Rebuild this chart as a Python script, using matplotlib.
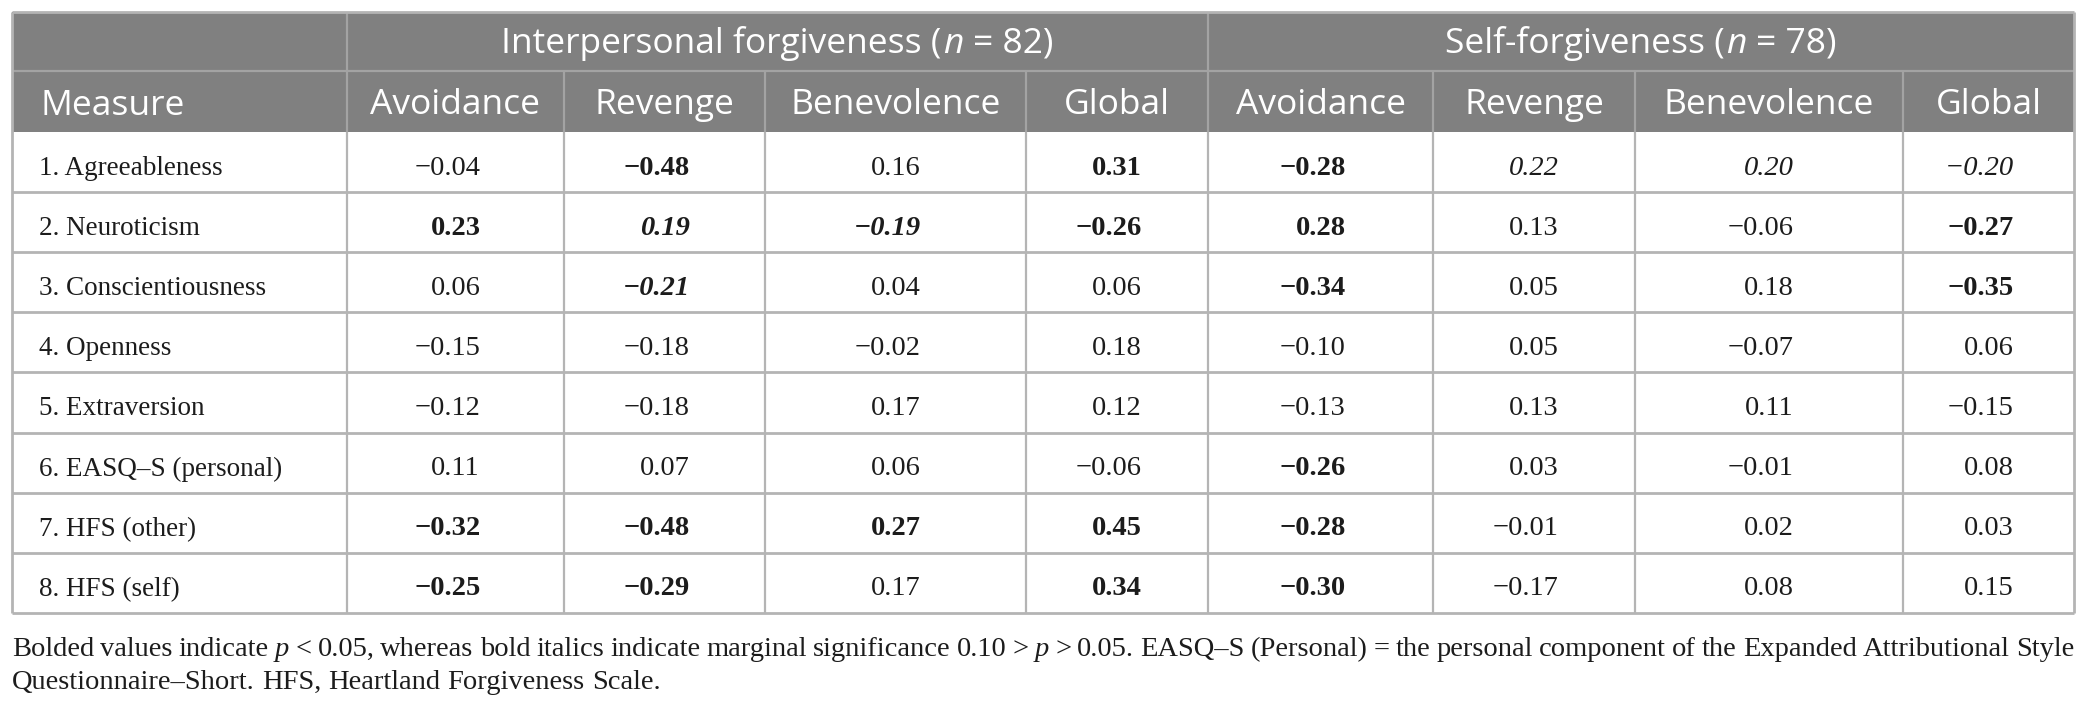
import matplotlib
matplotlib.use('Agg')
import matplotlib.pyplot as plt
from matplotlib.patches import Rectangle

# ---- table content ----
groups = ['Interpersonal forgiveness', 'Self-forgiveness']
group_n = [82, 78]
sub_cols = ['Avoidance', 'Revenge', 'Benevolence', 'Global']
measures = ['1. Agreeableness', '2. Neuroticism', '3. Conscientiousness', '4. Openness',
            '5. Extraversion', '6. EASQ\u2013S (personal)', '7. HFS (other)', '8. HFS (self)']

inter_vals = [
    [-0.04, -0.48, 0.16, 0.31],
    [0.23, 0.19, -0.19, -0.26],
    [0.06, -0.21, 0.04, 0.06],
    [-0.15, -0.18, -0.02, 0.18],
    [-0.12, -0.18, 0.17, 0.12],
    [0.11, 0.07, 0.06, -0.06],
    [-0.32, -0.48, 0.27, 0.45],
    [-0.25, -0.29, 0.17, 0.34],
]
inter_style = [
    ['', 'b', '', 'b'],
    ['b', 'bi', 'bi', 'b'],
    ['', 'bi', '', ''],
    ['', '', '', ''],
    ['', '', '', ''],
    ['', '', '', ''],
    ['b', 'b', 'b', 'b'],
    ['b', 'b', '', 'b'],
]
self_vals = [
    [-0.28, 0.22, 0.20, -0.20],
    [0.28, 0.13, -0.06, -0.27],
    [-0.34, 0.05, 0.18, -0.35],
    [-0.10, 0.05, -0.07, 0.06],
    [-0.13, 0.13, 0.11, -0.15],
    [-0.26, 0.03, -0.01, 0.08],
    [-0.28, -0.01, 0.02, 0.03],
    [-0.30, -0.17, 0.08, 0.15],
]
self_style = [
    ['b', 'i', 'i', 'i'],
    ['b', '', '', 'b'],
    ['b', '', '', 'b'],
    ['', '', '', ''],
    ['', '', '', ''],
    ['b', '', '', ''],
    ['b', '', '', ''],
    ['b', '', '', ''],
]

note_line1 = [('Bolded values indicate', ''), ('p', 'i'),
              ('< 0.05, whereas bold italics indicate marginal significance 0.10 >', ''), ('p', 'i'),
              ('> 0.05. EASQ\u2013S (Personal) = the personal component of the Expanded Attributional Style', '')]
note_line2 = 'Questionnaire\u2013Short. HFS, Heartland Forgiveness Scale.'

# ---- layout (pixels) ----
W, H = 2086, 710
col_edges = [12, 347, 564, 765, 1026, 1208, 1433, 1635, 1903, 2074]
top, hdr_mid, hdr_bot = 12, 71, 132
row_h = 60.1
bottom = hdr_bot + row_h * len(measures)

hdr_bg = '#808080'
hdr_line = '#a3a3a3'
grid = '#b4b4b4'
sans = 'Open Sans'
serif = 'Liberation Serif'
hdr_size = 25.5
label_size = 19.5
num_size = 20.5
note_size = 20.5
ink = '#1c1c1c'

fig = plt.figure(figsize=(W / 100, H / 100), dpi=100)
ax = fig.add_axes([0, 0, 1, 1])
ax.set_xlim(0, W)
ax.set_ylim(H, 0)
ax.axis('off')
renderer = fig.canvas.get_renderer()


def font_kw(st):
    return dict(fontweight='bold' if 'b' in st else 'normal',
                fontstyle='italic' if 'i' in st else 'normal')


def text_width(s, **kw):
    t = ax.text(0, 0, s, **kw)
    w = t.get_window_extent(renderer).width
    t.remove()
    return w


def draw_words(x0, x1, y, words, justify=True, **kw):
    # words: list of (word, style); justified between x0 and x1
    widths = [text_width(w, **font_kw(st), **kw) for w, st in words]
    if justify and len(words) > 1:
        gap = (x1 - x0 - sum(widths)) / (len(words) - 1)
    else:
        gap = text_width('a a', **kw) - text_width('aa', **kw)
    x = x0
    for (w, st), wd in zip(words, widths):
        ax.text(x, y, w, ha='left', va='baseline', **font_kw(st), **kw)
        x += wd + gap


def split_runs(runs):
    out = []
    for s, st in runs:
        out += [(w, st) for w in s.split(' ')]
    return out


# header background
ax.add_patch(Rectangle((col_edges[0], top), col_edges[-1] - col_edges[0], hdr_bot - top,
                       facecolor=hdr_bg, edgecolor='none', zorder=0))

# header lines
ax.hlines(hdr_mid, col_edges[0], col_edges[-1], color=hdr_line, lw=1.6)
ax.vlines([col_edges[1], col_edges[5]], top, hdr_mid, color=hdr_line, lw=1.6)
ax.vlines(col_edges[1:-1], hdr_mid, hdr_bot, color=hdr_line, lw=1.6)

# body grid
row_lines = [hdr_bot + row_h * i for i in range(1, len(measures))]
ax.hlines(row_lines, col_edges[0], col_edges[-1], color=grid, lw=2.0)
ax.vlines(col_edges[1:-1], hdr_bot, bottom, color=grid, lw=1.6)
# outer border
ax.hlines([top, bottom], col_edges[0], col_edges[-1], color=grid, lw=2.0)
ax.vlines([col_edges[0], col_edges[-1]], top, bottom, color=grid, lw=2.0)

# group headers with italic n
hkw = dict(family=sans, fontsize=hdr_size, color='white')
sp = text_width('a a', **hkw) - text_width('aa', **hkw)
for g, (name, n) in enumerate(zip(groups, group_n)):
    xa, xb = col_edges[1 + 4 * g], col_edges[5 + 4 * g]
    parts = [(name + ' (', '', 0), ('n', 'i', 0), ('= %d)' % n, '', sp)]
    ws = [text_width(s, **font_kw(st), **hkw) for s, st, _ in parts]
    total = sum(ws) + sum(p[2] for p in parts) + 2
    x = (xa + xb) / 2 - total / 2
    for (s, st, pre), wd in zip(parts, ws):
        x += pre
        ax.text(x, 41 + 12, s, ha='left', va='baseline', **font_kw(st), **hkw)
        x += wd + 1

# sub headers
ax.text(40, 101.5 + 13.5, 'Measure', ha='left', va='baseline', **hkw)
for g in range(2):
    for j, c in enumerate(sub_cols):
        xa, xb = col_edges[1 + 4 * g + j], col_edges[2 + 4 * g + j]
        ax.text((xa + xb) / 2, 101.5 + 12, c, ha='center', va='baseline', **hkw)

# body
lkw = dict(family=serif, fontsize=label_size, color=ink)
bkw = dict(family=serif, fontsize=num_size, color=ink)
for i, m in enumerate(measures):
    yc = hdr_bot + row_h * (i + 0.5)
    ax.text(39, yc + 13, m, ha='left', va='baseline', **lkw)
    for g, (vals, styles) in enumerate([(inter_vals, inter_style), (self_vals, self_style)]):
        for j in range(4):
            v = vals[i][j]
            st = styles[i][j]
            s_abs = '%.2f' % abs(v)
            s = ('\u2212' if v < 0 else '') + s_abs
            xa, xb = col_edges[1 + 4 * g + j], col_edges[2 + 4 * g + j]
            w_abs = text_width(s_abs, **font_kw(st), **bkw)
            ax.text((xa + xb) / 2 + w_abs / 2, yc + 12.5, s, ha='right', va='baseline',
                    **font_kw(st), **bkw)

# footnote
nkw = dict(family=serif, fontsize=note_size, color=ink)
draw_words(col_edges[0], col_edges[-1], 656, split_runs(note_line1), justify=True, **nkw)
draw_words(col_edges[0], col_edges[-1], 689, split_runs([(note_line2, '')]), justify=False, **nkw)

fig.savefig('out.png', dpi=100)
